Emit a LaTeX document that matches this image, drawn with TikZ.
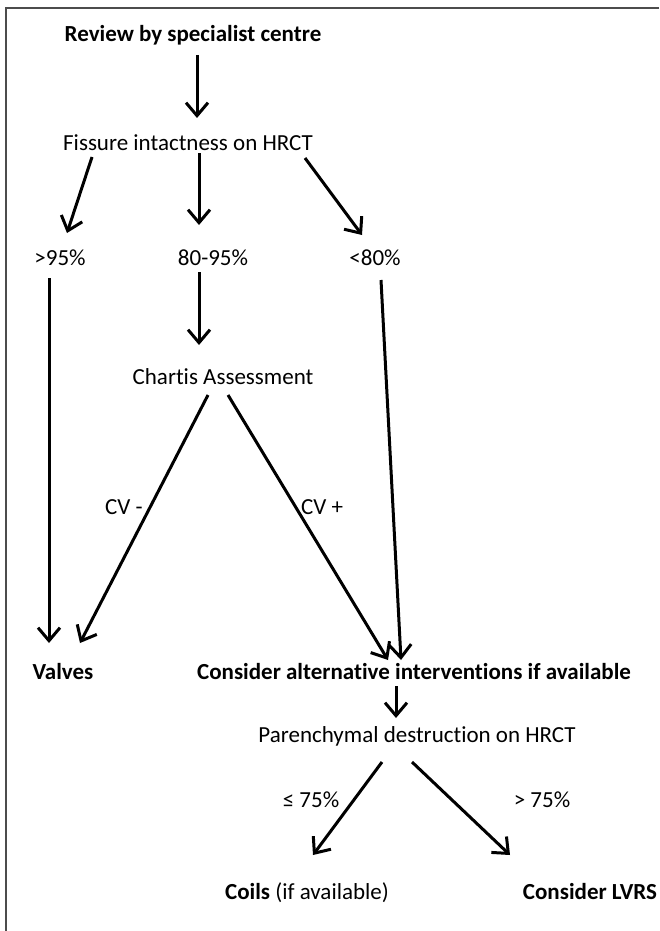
\documentclass[tikz,border=0pt]{standalone}
\usepackage{fontspec}
\setmainfont{Carlito}[Ligatures={NoCommon}]
\usetikzlibrary{arrows.meta}
\begin{document}
\begin{tikzpicture}[x=1pt,y=-1pt,
  txt/.style={inner sep=0pt, anchor=base, font=\fontsize{23}{27}\selectfont},
  btxt/.style={txt, font=\fontsize{23}{27}\selectfont\bfseries},
  arr/.style={line width=3pt, -{Straight Barb[length=13pt,width=22pt,line width=3pt]}},
  frame/.style={line width=1.5pt, draw=black!70}]
\useasboundingbox (0,0) rectangle (659,931);
\draw[frame] (659,8) -- (6,8) -- (6,931);

\node[btxt] (rev) at (193,42) {Review by specialist centre};
\node[txt] (fis) at (188,150) {Fissure intactness on HRCT};
\node[txt] (p95) at (60,265) {>95\%};
\node[txt] (p80) at (213,265) {80-95\%};
\node[txt] (l80) at (375,265) {<80\%};
\node[txt] (cha) at (223,384) {Chartis Assessment};
\node[txt] (cvm) at (124,514) {CV -};
\node[txt] (cvp) at (322,514) {CV +};
\node[btxt] (val) at (63,679) {Valves};
\node[btxt] (alt) at (414,679) {Consider alternative interventions if available};
\node[txt] (par) at (417,742) {Parenchymal destruction on HRCT};
\node[txt] (le) at (311,807) {≤ 75\%};
\node[txt] (gt) at (542,807) {> 75\%};
\node[txt] (coi) at (307,899) {\textbf{Coils} (if available)};
\node[btxt] (lvr) at (590,899) {Consider LVRS};

\coordinate (a1s) at (197,55);  \coordinate (a1e) at (197,118);
\coordinate (a2s) at (92,157);  \coordinate (a2e) at (67,233);
\coordinate (a3s) at (199,153); \coordinate (a3e) at (199,225);
\coordinate (a4s) at (305,158); \coordinate (a4e) at (362,235);
\coordinate (a5s) at (49,278);  \coordinate (a5e) at (49,643);
\coordinate (a6s) at (199,272); \coordinate (a6e) at (199,345);
\coordinate (a7s) at (381,280); \coordinate (a7e) at (401,660);
\coordinate (a8s) at (208,395); \coordinate (a8e) at (80,643);
\coordinate (a9s) at (228,395); \coordinate (a9e) at (388,660);
\coordinate (a10s) at (396,686); \coordinate (a10e) at (396,718);
\coordinate (a11s) at (382,762); \coordinate (a11e) at (313,855);
\coordinate (a12s) at (412,762); \coordinate (a12e) at (510,855);

\draw[arr] (a1s) -- (a1e);
\draw[arr] (a2s) -- (a2e);
\draw[arr] (a3s) -- (a3e);
\draw[arr] (a4s) -- (a4e);
\draw[arr] (a5s) -- (a5e);
\draw[arr] (a6s) -- (a6e);
\draw[arr] (a7s) -- (a7e);
\draw[arr] (a8s) -- (a8e);
\draw[arr] (a9s) -- (a9e);
\draw[arr] (a10s) -- (a10e);
\draw[arr] (a11s) -- (a11e);
\draw[arr] (a12s) -- (a12e);
\end{tikzpicture}
\end{document}
